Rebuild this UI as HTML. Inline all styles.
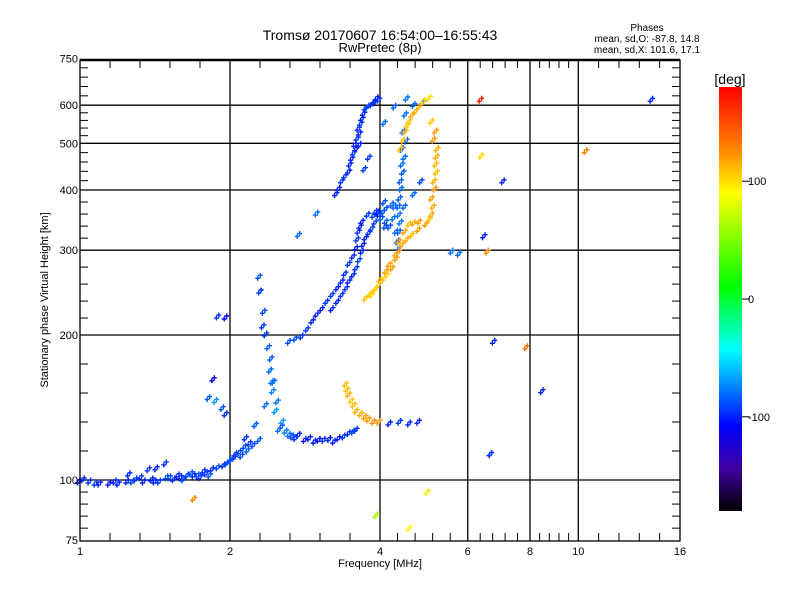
<!DOCTYPE html>
<html><head><meta charset="utf-8"><style>
body{margin:0;background:#fff}
svg{display:block;font-family:"Liberation Sans",sans-serif}
</style></head><body>
<svg id="chart" width="800" height="600" viewBox="0 0 800 600">
<rect width="800" height="600" fill="#fff"/>
<text x="380" y="40" text-anchor="middle" font-size="14">Tromsø 20170607 16:54:00–16:55:43</text>
<text x="380" y="52" text-anchor="middle" font-size="13">RwPretec (8p)</text>
<text x="647" y="31" text-anchor="middle" font-size="10">Phases</text>
<text x="647" y="42" text-anchor="middle" font-size="10">mean, sd,O: -87.8, 14.8</text>
<text x="647" y="53" text-anchor="middle" font-size="10">mean, sd,X: 101.6, 17.1</text>
<text x="48" y="300" text-anchor="middle" font-size="11" transform="rotate(-90 48 300)">Stationary phase Virtual Height [km]</text>
<text x="380" y="567" text-anchor="middle" font-size="11">Frequency [MHz]</text>
<g id="grid"></g>
<g id="marks"></g>
<g id="axes"></g>
<defs><linearGradient id="cb" x1="0" y1="0" x2="0" y2="1">
<stop offset="0" stop-color="#ff0000"/><stop offset="0.15" stop-color="#ff8800"/><stop offset="0.25" stop-color="#ffff00"/><stop offset="0.47" stop-color="#00ff00"/><stop offset="0.62" stop-color="#00ffff"/><stop offset="0.8" stop-color="#0000ff"/><stop offset="0.9" stop-color="#4000a0"/><stop offset="1" stop-color="#000000"/>
</linearGradient></defs>
<rect x="719" y="87" width="23" height="424" fill="url(#cb)"/>
<text x="730" y="84" text-anchor="middle" font-size="14">[deg]</text>
<g id="cbticks"></g>
</svg>
<script>
const xMajor=[1,2,4,6,8,10,16];
const yMajor=[75,100,200,300,400,500,600,750];
const yGrid=[100,200,300,400,500,600];
const xGrid=[2,4,6,8,10];
const cbTicks=[100,0,-100];
const freqO=[1.0,1.05,1.1,1.15,1.2,1.25,1.3,1.35,1.4,1.45,1.5,1.55,1.6,1.65,1.7,1.75,1.8,1.85,1.9,1.95,2.0,2.05,2.1,2.15,2.2,
1.26,1.38,1.43,1.49,1.82,1.88,1.94,1.97,1.86,2.06,2.16,2.26,2.37,2.44,
2.37,2.43,2.46,2.5,2.56,2.64,2.35,2.31,2.3,
2.76,2.9,3.03,3.18,3.32,3.48,3.6,4.0,4.2,4.4,4.6,4.8,
2.64,2.8,2.94,3.07,3.22,3.37,3.48,3.6,3.64,3.7,3.94,4.13,4.33,
3.22,3.37,3.48,3.6,3.7,3.76,3.87,4.0,4.13,4.25,
3.28,3.37,3.48,3.53,3.6,3.62,3.64,3.7,3.76,3.87,4.0,3.0,2.76,
4.39,4.39,4.39,4.4,4.42,4.45,4.45,4.48,4.52,4.55,
6.7,14.1,8.5,6.8,6.7,1.9,1.97,5.79,5.6,6.5,7.1,1.0,1.02,
1.08,1.18,1.28,1.33,1.42,1.52,1.58,1.62,1.68,1.73,1.78,1.83,1.98,2.02,2.12,2.18,2.24,2.3,2.34,
2.4,2.42,2.45,2.48,2.52,2.55,2.6,2.68,2.72,2.84,2.97,3.1,3.25,3.4,3.55,
2.72,2.87,3.0,3.14,3.3,3.42,3.55,3.62,3.67,3.8,3.9,4.05,4.2,
3.3,3.44,3.55,3.65,3.72,3.82,3.93,4.08,4.3,4.1,3.98,
3.32,3.42,3.5,3.56,3.58,3.66,3.68,3.73,3.8,3.92,3.96,
4.36,4.42,4.38,4.43,4.47,4.5,4.54,4.1,4.3,4.7,4.9,
4.12,4.28,4.5,4.7,4.86,3.74,3.82,3.66];
const heightO=[100,100,99,99,99,100,101,100,101,100,102,101,102,103,103,102,104,106,107,108,110,112,115,118,120,
103.5,106,106.5,109,149,147,142,138,163,114,123,131,144,161,
202,180,161,146.5,133,125,225,248,266,
125,123,122,122.5,123,126,128,133,132,133,132,133,
195,200,215,228,244,260,283,305,330,346,363,346,330,
228,244,260,277,300,320,335,358,368,376,
395,420,440,468,490,515,540,566,595,607,620,360,325,
305,330,358,387,420,455,490,533,578,624,
114,620,154,195,114,220,219,297,300,323,420,100,101,
99,100,100,102,100,102,103,101,104,103,105,103,109,111,113,116,119,122,210,
190,170,154,140,128,130,127,124,123,122,121,122,121,124,127,
198,207,222,236,252,270,293,318,338,358,356,352,338,
236,252,268,288,310,328,345,363,372,380,362,
405,430,455,480,500,528,553,580,600,612,625,
315,345,372,405,438,470,510,555,600,605,612,
338,352,372,395,420,445,470,500,520,560,570,
330,340,352,380,410,515,560,470];
const phaseO=[-100,-95,-100,-105,-100,-100,-95,-100,-100,-95,-90,-95,-100,-95,-100,-95,-95,-100,-90,-95,-90,-95,-90,-90,-95,
-100,-95,-100,-95,-85,-70,-85,-95,-110,-90,-95,-85,-80,-75,
-95,-85,-80,-75,-70,-80,-90,-95,-85,
-100,-100,-105,-100,-100,-100,-95,-100,-100,-95,-100,-100,
-90,-95,-100,-100,-95,-100,-95,-100,-95,-100,-95,-85,-80,
-100,-95,-100,-95,-100,-100,-95,-100,-90,-85,
-100,-95,-100,-100,-100,-95,-100,-100,-95,-100,-95,-80,-80,
-80,-85,-80,-85,-85,-80,-85,-80,-80,-80,
-95,-100,-100,-100,-95,-95,-110,-80,-80,-100,-100,-100,-100,
-95,-100,-90,-95,-100,-90,-95,-90,-85,-90,-95,-85,-90,-85,-90,-85,-90,-85,-95,
-85,-80,-75,-70,-80,-85,-75,-90,-95,-100,-100,-95,-100,-95,-90,
-90,-95,-100,-95,-100,-95,-100,-95,-100,-95,-90,-85,-90,
-100,-95,-100,-90,-100,-95,-90,-85,-80,-90,-100,
-100,-95,-100,-95,-100,-100,-95,-100,-90,-95,-100,
-85,-80,-85,-80,-85,-80,-80,-80,-85,-80,-85,
-90,-80,-85,-80,-90,-95,-95,-100];
const freqX=[3.43,3.48,3.56,3.68,3.81,4.0,
3.76,3.94,4.13,4.33,4.45,4.66,4.97,5.1,5.1,5.16,5.2,5.24,5.2,5.1,
3.87,4.05,4.25,4.39,4.6,4.82,
4.42,4.52,4.6,4.74,4.92,
6.4,6.42,6.6,10.4,7.9,5.0,3.95,4.6,1.7,
3.45,3.52,3.6,3.75,3.9,
3.84,4.02,4.2,4.38,4.55,4.8,5.05,5.14,5.18,5.22,5.22,5.15,
3.95,4.15,4.32,4.5,4.7,
4.47,4.56,4.66,4.84,5.05];
const heightX=[159,151.5,144,138,134.5,133,
240,251,273,290,310,325,342,358,387,420,455,490,533,559,
244,260,277,315,342,346,
490,533,559,587,616,
620,474,300,485,190,95,85,80,92,
155,147,140,136,133,
245,262,282,300,318,333,350,372,405,438,472,512,
252,268,296,330,344,
510,548,575,602,626];
const phaseX=[110,115,110,115,120,115,
110,115,120,120,115,110,120,115,120,115,110,115,120,105,
105,110,120,115,110,120,
110,115,110,115,100,
170,100,125,130,135,95,60,90,125,
110,105,115,120,125,
105,110,120,125,115,120,110,115,120,110,115,120,
100,105,115,120,115,
110,105,115,110,100];

const X0=80,X1=680,YT=60,YB=541;
const fx=f=>X0+150*Math.log2(f);
const hy=h=>480-481.7*Math.log10(h/100);
const stops=[[0,[255,0,0]],[0.15,[255,136,0]],[0.25,[255,255,0]],[0.47,[0,255,0]],[0.62,[0,255,255]],[0.8,[0,0,255]],[0.9,[64,0,160]],[1,[0,0,0]]];
function col(v){const t=Math.min(1,Math.max(0,(180-v)/360));for(let i=1;i<stops.length;i++){if(t<=stops[i][0]){const a=stops[i-1],b=stops[i],u=(t-a[0])/(b[0]-a[0]);const c=a[1].map((x,k)=>Math.round(x+(b[1][k]-x)*u));return `rgb(${c})`;}}return '#000';}
const NS='http://www.w3.org/2000/svg';
function mk(tag,attrs,parent){const e=document.createElementNS(NS,tag);for(const k in attrs)e.setAttribute(k,attrs[k]);parent.appendChild(e);return e;}
const grid=document.getElementById('grid'),axes=document.getElementById('axes'),marks=document.getElementById('marks');
xGrid.forEach(f=>{const l=mk('line',{x1:fx(f),x2:fx(f),y1:YT,y2:YB,stroke:'#000','stroke-width':1.3},grid);

});
yGrid.forEach(h=>{const l=mk('line',{x1:X0,x2:X1,y1:hy(h),y2:hy(h),stroke:'#000','stroke-width':1.3},grid);

});
function plus(f,h,p,name){const x=fx(f),y=hy(h),c=col(p);const g=mk('path',{d:`M${x-2.5} ${y}h5M${x} ${y-2.5}v5M${x-5} ${y+3}h5M${x-2.5} ${y+0.5}v5`,stroke:c,'stroke-width':1.4,fill:'none'},marks);

}
freqO.forEach((f,i)=>plus(f,heightO[i],phaseO[i],'o-mode-point'));
freqX.forEach((f,i)=>plus(f,heightX[i],phaseX[i],'x-mode-point'));
const frame=mk('rect',{x:X0,y:YT,width:X1-X0,height:YB-YT,fill:'none',stroke:'#000','stroke-width':1.3},axes);


mk('line',{x1:X0,x2:X1,y1:YT,y2:YT,stroke:'#000','stroke-width':2.5},axes);
for(let i=0;i<xMajor.length;i++){const xa=fx(xMajor[i]);
const t=mk('text',{x:xa,y:555,'text-anchor':'middle','font-size':11},axes);t.textContent=xMajor[i];


if(i<xMajor.length-1){const xb=fx(xMajor[i+1]);for(let k=1;k<5;k++){const x=xa+(xb-xa)*k/5;mk('line',{x1:x,x2:x,y1:YB,y2:YB-8,stroke:'#000'},axes);mk('line',{x1:x,x2:x,y1:YT,y2:YT+8,stroke:'#000'},axes);}}}
for(let i=0;i<yMajor.length;i++){const ya=hy(yMajor[i]);
const t=mk('text',{x:X0-2,y:Math.min(ya+4,YB+3),'text-anchor':'end','font-size':11},axes);t.textContent=yMajor[i];


if(i<yMajor.length-1){const yb=hy(yMajor[i+1]);for(let k=1;k<5;k++){const y=ya+(yb-ya)*k/5;mk('line',{x1:X0,x2:X0+8,y1:y,y2:y,stroke:'#000'},axes);mk('line',{x1:X1,x2:X1-8,y1:y,y2:y,stroke:'#000'},axes);}}}
const cb=document.getElementById('cbticks');
cbTicks.forEach(v=>{const y=87+(180-v)/360*424;mk('line',{x1:742,x2:750,y1:y,y2:y,stroke:'#000'},cb);
const t=mk('text',{x:748,y:y+4,'font-size':11},cb);t.textContent=v;

});
</script>
</body></html>
